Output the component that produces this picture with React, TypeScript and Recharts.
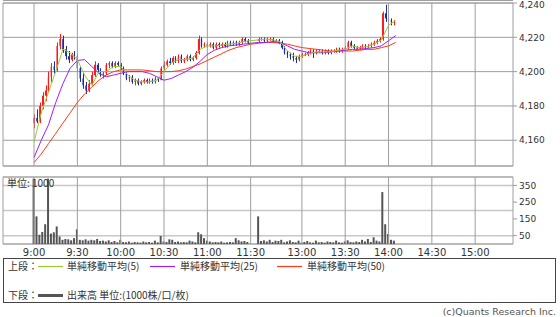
import {
  ComposedChart,
  Bar,
  Line,
  XAxis,
  YAxis,
  CartesianGrid,
  ReferenceLine,
  ReferenceArea,
} from 'recharts';

// [time, open, high, low, close, volume(1000株)] — 2分足
type Row = [string, number, number, number, number, number];

const bars0900: Row[] = [
  ['9:00', 4170, 4175, 4167, 4173, 390],
  ['9:02', 4173, 4178, 4170, 4171, 165],
  ['9:04', 4171, 4182, 4170, 4180, 55],
  ['9:06', 4180, 4188, 4178, 4186, 72],
  ['9:08', 4186, 4192, 4183, 4189, 118],
  ['9:10', 4189, 4200, 4188, 4197, 390],
  ['9:12', 4197, 4205, 4194, 4203, 62],
  ['9:14', 4203, 4206, 4199, 4201, 70],
  ['9:16', 4201, 4217, 4200, 4215, 105],
  ['9:18', 4215, 4222, 4213, 4219, 45],
  ['9:20', 4219, 4221, 4211, 4213, 25],
  ['9:22', 4213, 4215, 4207, 4209, 30],
  ['9:24', 4209, 4212, 4205, 4207, 28],
  ['9:26', 4207, 4211, 4206, 4210, 22],
  ['9:28', 4210, 4212, 4207, 4209, 35],
];

const bars0930: Row[] = [
  ['9:30', 4209, 4210, 4200, 4202, 88],
  ['9:32', 4202, 4203, 4194, 4196, 25],
  ['9:34', 4196, 4199, 4190, 4192, 22],
  ['9:36', 4192, 4194, 4187, 4189, 28],
  ['9:38', 4189, 4195, 4188, 4193, 20],
  ['9:40', 4193, 4200, 4192, 4198, 25],
  ['9:42', 4198, 4206, 4197, 4204, 22],
  ['9:44', 4204, 4205, 4199, 4201, 30],
  ['9:46', 4201, 4202, 4197, 4198, 18],
  ['9:48', 4198, 4200, 4196, 4199, 20],
  ['9:50', 4199, 4205, 4198, 4204, 15],
  ['9:52', 4204, 4206, 4202, 4205, 22],
  ['9:54', 4205, 4206, 4202, 4203, 12],
  ['9:56', 4203, 4206, 4202, 4205, 18],
  ['9:58', 4205, 4206, 4203, 4204, 10],
];

const bars1000: Row[] = [
  ['10:00', 4204, 4205, 4201, 4202, 25],
  ['10:02', 4202, 4203, 4198, 4199, 12],
  ['10:04', 4199, 4200, 4195, 4196, 10],
  ['10:06', 4196, 4198, 4194, 4197, 15],
  ['10:08', 4197, 4198, 4193, 4194, 8],
  ['10:10', 4194, 4196, 4192, 4195, 12],
  ['10:12', 4195, 4196, 4192, 4193, 10],
  ['10:14', 4193, 4195, 4192, 4194, 8],
  ['10:16', 4194, 4196, 4193, 4195, 15],
  ['10:18', 4195, 4196, 4193, 4194, 10],
  ['10:20', 4194, 4196, 4193, 4195, 12],
  ['10:22', 4195, 4196, 4193, 4194, 8],
  ['10:24', 4194, 4197, 4193, 4196, 20],
  ['10:26', 4196, 4197, 4194, 4195, 10],
  ['10:28', 4195, 4203, 4195, 4202, 48],
];

const bars1030: Row[] = [
  ['10:30', 4202, 4206, 4201, 4204, 15],
  ['10:32', 4204, 4207, 4203, 4206, 12],
  ['10:34', 4206, 4208, 4204, 4205, 28],
  ['10:36', 4205, 4209, 4204, 4208, 25],
  ['10:38', 4208, 4209, 4205, 4206, 12],
  ['10:40', 4206, 4210, 4205, 4209, 15],
  ['10:42', 4209, 4210, 4205, 4206, 10],
  ['10:44', 4206, 4208, 4205, 4207, 12],
  ['10:46', 4207, 4210, 4206, 4209, 10],
  ['10:48', 4209, 4210, 4206, 4207, 20],
  ['10:50', 4207, 4209, 4206, 4208, 15],
  ['10:52', 4208, 4212, 4207, 4211, 10],
  ['10:54', 4211, 4221, 4210, 4219, 70],
  ['10:56', 4219, 4220, 4214, 4215, 58],
  ['10:58', 4215, 4217, 4214, 4216, 35],
];

const bars1100: Row[] = [
  ['11:00', 4216, 4217, 4214, 4215, 20],
  ['11:02', 4215, 4217, 4214, 4216, 15],
  ['11:04', 4216, 4217, 4213, 4214, 10],
  ['11:06', 4214, 4217, 4213, 4216, 12],
  ['11:08', 4216, 4217, 4214, 4215, 10],
  ['11:10', 4215, 4217, 4214, 4216, 15],
  ['11:12', 4216, 4217, 4214, 4215, 8],
  ['11:14', 4215, 4218, 4214, 4217, 10],
  ['11:16', 4217, 4218, 4215, 4216, 12],
  ['11:18', 4216, 4218, 4215, 4217, 10],
  ['11:20', 4217, 4218, 4215, 4216, 35],
  ['11:22', 4216, 4218, 4215, 4217, 22],
  ['11:24', 4217, 4220, 4216, 4219, 15],
  ['11:26', 4219, 4220, 4217, 4218, 18],
  ['11:28', 4218, 4219, 4216, 4217, 12],
];

const bars1230: Row[] = [
  ['12:30', 4218, 4220, 4217, 4219, 165],
  ['12:32', 4219, 4220, 4218, 4219, 18],
  ['12:34', 4219, 4220, 4217, 4218, 22],
  ['12:36', 4218, 4220, 4217, 4219, 15],
  ['12:38', 4219, 4220, 4218, 4219, 25],
  ['12:40', 4219, 4220, 4217, 4218, 12],
  ['12:42', 4218, 4219, 4217, 4218, 20],
  ['12:44', 4218, 4219, 4216, 4217, 18],
  ['12:46', 4217, 4218, 4213, 4214, 25],
  ['12:48', 4214, 4215, 4210, 4211, 10],
  ['12:50', 4211, 4212, 4208, 4210, 15],
  ['12:52', 4210, 4211, 4207, 4209, 22],
  ['12:54', 4209, 4211, 4206, 4208, 12],
  ['12:56', 4208, 4209, 4205, 4207, 10],
  ['12:58', 4207, 4210, 4206, 4209, 20],
];

const bars1300: Row[] = [
  ['13:00', 4209, 4211, 4208, 4210, 8],
  ['13:02', 4210, 4211, 4209, 4210, 12],
  ['13:04', 4210, 4212, 4209, 4211, 18],
  ['13:06', 4211, 4213, 4210, 4212, 10],
  ['13:08', 4212, 4213, 4208, 4211, 8],
  ['13:10', 4211, 4213, 4210, 4212, 20],
  ['13:12', 4212, 4213, 4211, 4212, 10],
  ['13:14', 4212, 4213, 4210, 4211, 12],
  ['13:16', 4211, 4213, 4210, 4212, 8],
  ['13:18', 4212, 4213, 4210, 4211, 15],
  ['13:20', 4211, 4213, 4210, 4212, 12],
  ['13:22', 4212, 4213, 4211, 4212, 10],
  ['13:24', 4212, 4214, 4211, 4213, 20],
  ['13:26', 4213, 4214, 4211, 4212, 10],
  ['13:28', 4212, 4214, 4211, 4213, 8],
];

const bars1330: Row[] = [
  ['13:30', 4213, 4215, 4212, 4214, 15],
  ['13:32', 4214, 4218, 4213, 4217, 22],
  ['13:34', 4217, 4218, 4214, 4215, 12],
  ['13:36', 4215, 4216, 4213, 4214, 10],
  ['13:38', 4214, 4215, 4213, 4214, 15],
  ['13:40', 4214, 4215, 4213, 4214, 12],
  ['13:42', 4214, 4216, 4213, 4215, 25],
  ['13:44', 4215, 4216, 4213, 4214, 15],
  ['13:46', 4214, 4216, 4214, 4215, 30],
  ['13:48', 4215, 4217, 4214, 4216, 12],
  ['13:50', 4216, 4218, 4215, 4217, 40],
  ['13:52', 4217, 4219, 4216, 4218, 20],
  ['13:54', 4218, 4220, 4217, 4219, 15],
  ['13:56', 4219, 4235, 4218, 4234, 310],
  ['13:58', 4234, 4239, 4229, 4231, 118],
];

const bars1400: Row[] = [
  ['14:00', 4231, 4233, 4228, 4230, 60],
  ['14:02', 4230, 4231, 4227, 4229, 25],
  ['14:04', 4229, 4230, 4227, 4229, 20],
];

// 移動平均 (5分おきに読み取り)
const maTimes = [
  '9:00', '9:05', '9:10', '9:15', '9:20', '9:25', '9:30', '9:35', '9:40', '9:45', '9:50', '9:55',
  '10:00', '10:05', '10:10', '10:15', '10:20', '10:25', '10:30', '10:35', '10:40', '10:45', '10:50', '10:55',
  '11:00', '11:05', '11:10', '11:15', '11:20', '11:25', '11:30',
  '12:30', '12:35', '12:40', '12:45', '12:50', '12:55',
  '13:00', '13:05', '13:10', '13:15', '13:20', '13:25', '13:30', '13:35', '13:40', '13:45', '13:50', '13:55',
  '14:00', '14:05',
];
const ma5 = [
  4159, 4176, 4188, 4200, 4213, 4211, 4207, 4198, 4192, 4200, 4200, 4203,
  4203, 4198, 4195, 4194, 4194, 4195, 4200, 4205, 4207, 4207, 4208, 4213,
  4215, 4215, 4215.5, 4216, 4216.5, 4217.5, 4218,
  4218.5, 4219, 4218.5, 4217.5, 4212, 4209,
  4209, 4210.5, 4211.5, 4211.5, 4211.5, 4212.5, 4213, 4215, 4214, 4214.5, 4216, 4218.5,
  4227, 4230,
];
const ma25 = [
  4150, 4160, 4169, 4182, 4193, 4202, 4206.5, 4207, 4203, 4199, 4197, 4198,
  4199, 4200, 4200, 4200, 4199, 4197, 4195, 4196, 4198, 4200, 4202.5, 4206,
  4210, 4212.5, 4214, 4215, 4215.5, 4216, 4216.5,
  4217, 4217, 4217.5, 4217, 4215, 4213,
  4212, 4211, 4211, 4211, 4211.5, 4212, 4212.5, 4213, 4213, 4213.5, 4214, 4215,
  4218, 4221,
];
const ma50 = [
  4147, 4152, 4158, 4164, 4170, 4176, 4182, 4187, 4191, 4195, 4198, 4200,
  4201, 4201, 4201, 4201, 4200.5, 4200, 4200, 4200, 4200.5, 4201.5, 4203, 4204.5,
  4206.5, 4208.5, 4210.5, 4212.5, 4214, 4215, 4216,
  4216.5, 4217, 4217, 4216.5, 4216, 4215,
  4214, 4213.5, 4213, 4212.5, 4212, 4212, 4212, 4212, 4212.5, 4213, 4213, 4214,
  4215, 4217,
];

const xTickLabels = ['9:00', '9:30', '10:00', '10:30', '11:00', '11:30', '13:00', '13:30', '14:00', '14:30', '15:00'];
const priceTicks = [4160, 4180, 4200, 4220, 4240];
const volumeTicks = [50, 100, 150, 200, 250, 300, 350];

const UP = '#ff1a1a';
const DOWN = '#1a2ea8';
const GRID = '#9e9e9e';
const MA5_COLOR = '#9acd32';
const MA25_COLOR = '#a020f0';
const MA50_COLOR = '#ff3a12';

// 昼休みは詰めて描く: 11:30 の後すぐ 12:30
const LUNCH_GAP = 5.5;
function toX(t: string): number {
  const [h, m] = t.split(':').map(Number);
  const mins = h * 60 + m - 540;
  return mins <= 150 ? mins : mins - 60 + LUNCH_GAP;
}

const X_DOMAIN: [number, number] = [-21.5, 331.7];
const P_DOMAIN: [number, number] = [4145, 4240];
const V_DOMAIN: [number, number] = [0, 400];

const bars = [...bars0900, ...bars0930, ...bars1000, ...bars1030, ...bars1100, ...bars1230, ...bars1300, ...bars1330, ...bars1400].map(
  ([t, o, h, l, c, v]) => ({ x: toX(t), o, h, l, c, v }),
);
const maRows = maTimes.map((t, i) => ({ x: toX(t), ma5: ma5[i], ma25: ma25[i], ma50: ma50[i] }));
const xTicks = xTickLabels.map(toX);
const xLabelOf = (v: number) => xTickLabels[xTicks.indexOf(v)] ?? '';

const Candle = (props: any) => {
  const { x, y, width, height, payload } = props;
  const { o, h, l, c } = payload;
  const color = c >= o ? UP : DOWN;
  const top = Math.min(y, y + height);
  const span = Math.abs(height);
  const k = span / (h - l || 1);
  const bodyTop = top + (h - Math.max(o, c)) * k;
  const bodyH = Math.max(Math.abs(o - c) * k, 1);
  const cx = Math.round(x + width / 2) + 0.5;
  return (
    <g>
      <line x1={cx} x2={cx} y1={top} y2={top + span} stroke={color} strokeWidth={1} />
      <rect x={x} y={bodyTop} width={width} height={bodyH} fill={color} />
    </g>
  );
};

const axisText = { fontSize: 9, fill: '#333', fontFamily: 'DejaVu Sans' };
const jp = { fontFamily: '"Noto Sans CJK JP", "DejaVu Sans"', fontSize: 10, fill: '#333' };

export default function App() {
  return (
    <div style={{ position: 'absolute', left: 0, top: 0, width: 560, height: 317, background: '#fff', overflow: 'hidden' }}>
      <div style={{ position: 'absolute', left: 3, top: 0, width: 510, height: 1, background: GRID }} />
      <div style={{ position: 'absolute', left: 0, top: 0 }}>
        <ComposedChart width={560} height={167} data={bars} margin={{ top: 3, right: 0, bottom: 1, left: 3 }}>
          <CartesianGrid vertical={false} stroke={GRID} />
          <XAxis dataKey="x" type="number" domain={X_DOMAIN} ticks={xTicks} hide allowDataOverflow />
          <YAxis
            orientation="right"
            width={47}
            domain={P_DOMAIN}
            ticks={priceTicks}
            allowDataOverflow
            axisLine={false}
            tickLine={{ stroke: GRID }}
            tickSize={4}
            tickMargin={2}
            tick={axisText}
            tickFormatter={(v: number) => v.toLocaleString('en-US')}
          />
          {xTicks.map((t) => (
            <ReferenceLine key={t} x={t} stroke={GRID} />
          ))}
          <ReferenceArea x1={X_DOMAIN[0]} x2={X_DOMAIN[1]} y1={P_DOMAIN[0]} y2={P_DOMAIN[1]} fill="none" stroke={GRID} />
          <Bar dataKey={(d: any) => [d.l, d.h]} barSize={2} shape={Candle} isAnimationActive={false} />
          <Line data={maRows} dataKey="ma50" stroke={MA50_COLOR} strokeWidth={1} dot={false} isAnimationActive={false} />
          <Line data={maRows} dataKey="ma25" stroke={MA25_COLOR} strokeWidth={1} dot={false} isAnimationActive={false} />
          <Line data={maRows} dataKey="ma5" stroke={MA5_COLOR} strokeWidth={1} dot={false} isAnimationActive={false} />
        </ComposedChart>
      </div>

      <div style={{ position: 'absolute', left: 0, top: 170 }}>
        <ComposedChart width={560} height={90} data={bars} margin={{ top: 7, right: 0, bottom: 0, left: 3 }}>
          <CartesianGrid vertical={false} stroke="#c8c8c8" strokeWidth={1.5} />
          <XAxis
            dataKey="x"
            type="number"
            domain={X_DOMAIN}
            ticks={xTicks}
            allowDataOverflow
            height={16}
            axisLine={false}
            tickLine={false}
            tickSize={3}
            tickMargin={2}
            tick={{ ...axisText, fontSize: 10 }}
            tickFormatter={xLabelOf}
          />
          <YAxis
            orientation="right"
            width={47}
            domain={V_DOMAIN}
            ticks={volumeTicks}
            allowDataOverflow
            axisLine={false}
            tickLine={{ stroke: GRID }}
            tickSize={4}
            tickMargin={2}
            tick={axisText}
          />
          {xTicks.map((t) => (
            <ReferenceLine key={t} x={t} stroke={GRID} />
          ))}
          <ReferenceArea x1={X_DOMAIN[0]} x2={X_DOMAIN[1]} y1={V_DOMAIN[0]} y2={V_DOMAIN[1]} fill="none" stroke={GRID} />
          <Bar dataKey="v" barSize={2} fill="#555" isAnimationActive={false} />
        </ComposedChart>
      </div>

      <svg width={560} height={317} style={{ position: 'absolute', left: 0, top: 0, pointerEvents: 'none' }}>
        <text x={7} y={187} {...jp}>単位: 1000</text>

        <rect x={3.5} y={258.5} width={552} height={44} fill="none" stroke="#444" />
        <text x={8} y={270} {...jp}>上段：</text>
        <line x1={38} x2={63} y1={266.5} y2={266.5} stroke={MA5_COLOR} strokeWidth={1.2} />
        <text x={67} y={270} {...jp}>単純移動平均(5)</text>
        <line x1={150} x2={175} y1={266.5} y2={266.5} stroke={MA25_COLOR} strokeWidth={1.2} />
        <text x={180} y={270} {...jp}>単純移動平均(25)</text>
        <line x1={277} x2={302} y1={266.5} y2={266.5} stroke={MA50_COLOR} strokeWidth={1.2} />
        <text x={307} y={270} {...jp}>単純移動平均(50)</text>

        <text x={8} y={299} {...jp}>下段：</text>
        <line x1={38} x2={63} y1={295.5} y2={295.5} stroke="#555" strokeWidth={3} />
        <text x={67} y={299} {...jp}>出来高 単位:(1000株/口/枚)</text>

        <text x={556} y={315} textAnchor="end" fontFamily="DejaVu Sans" fontSize={9.5} fill="#555">
          (c)Quants Research Inc.
        </text>
      </svg>
    </div>
  );
}
